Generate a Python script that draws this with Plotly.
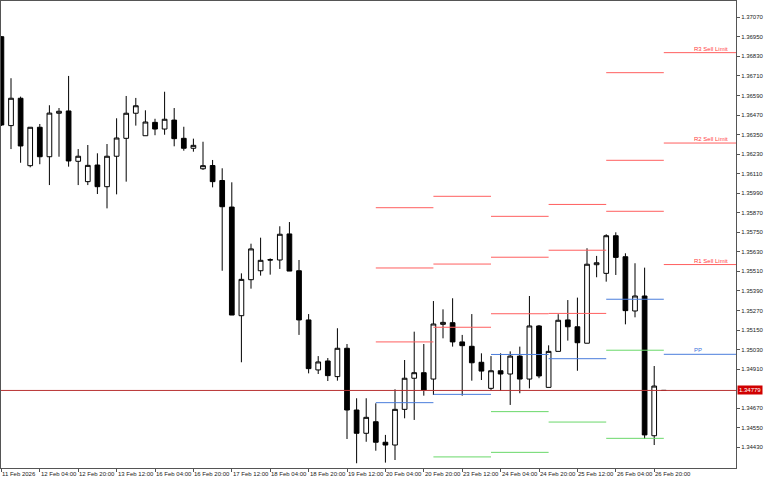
import plotly.graph_objects as go

# ---------------- data ----------------
# H4 candles, 11 Feb 2026 12:00 -> 27 Feb 2026 00:00 (index 0..69)
opens = [1.36951, 1.36405, 1.36573, 1.36159, 1.36395, 1.36214, 1.36481, 1.36495, 1.36186, 1.36061,
         1.36163, 1.36030, 1.36217, 1.36327, 1.36481, 1.36343, 1.36425, 1.36384, 1.36439, 1.36327,
         1.36266, 1.36140, 1.36160, 1.36068, 1.35905, 1.35238, 1.35459, 1.35514, 1.35582, 1.35580,
         1.35740, 1.35514, 1.35212, 1.34905, 1.34960, 1.34864, 1.35038, 1.34659, 1.34516, 1.34587,
         1.34461, 1.34444, 1.34663, 1.34854, 1.34888, 1.34849, 1.35185, 1.35195, 1.35077, 1.35050,
         1.34952, 1.34792, 1.34900, 1.34880, 1.34990, 1.34849, 1.35175, 1.34798, 1.35019, 1.35212,
         1.35170, 1.35069, 1.35551, 1.35498, 1.35729, 1.35600, 1.35267, 1.35359, 1.34501, 1.34779]
highs = [1.36955, 1.36696, 1.36583, 1.36395, 1.36415, 1.36530, 1.36513, 1.36710, 1.36261, 1.36286,
         1.36235, 1.36292, 1.36450, 1.36587, 1.36575, 1.36499, 1.36447, 1.36613, 1.36513, 1.36398,
         1.36325, 1.36306, 1.36194, 1.36143, 1.36057, 1.35498, 1.35680, 1.35717, 1.35590, 1.35787,
         1.35813, 1.35580, 1.35248, 1.34990, 1.34978, 1.35161, 1.35064, 1.34731, 1.34731, 1.34700,
         1.34506, 1.34786, 1.34966, 1.35140, 1.35064, 1.35328, 1.35277, 1.35345, 1.35120, 1.35248,
         1.35007, 1.34990, 1.35007, 1.35019, 1.35048, 1.35359, 1.35181, 1.35056, 1.35247, 1.35334,
         1.35349, 1.35652, 1.35605, 1.35738, 1.35750, 1.35621, 1.35560, 1.35533, 1.34929, 1.34781]
lows = [1.36403, 1.36261, 1.36177, 1.36149, 1.36168, 1.36040, 1.36214, 1.36153, 1.36040, 1.36040,
        1.35985, 1.35897, 1.35983, 1.36061, 1.36405, 1.36343, 1.36346, 1.36349, 1.36278, 1.36251,
        1.36245, 1.36133, 1.36026, 1.35514, 1.35242, 1.34952, 1.35404, 1.35484, 1.35490, 1.35525,
        1.35512, 1.35120, 1.34884, 1.34880, 1.34837, 1.34839, 1.34481, 1.34332, 1.34464, 1.34409,
        1.34336, 1.34352, 1.34608, 1.34598, 1.34747, 1.34751, 1.35099, 1.35048, 1.34747, 1.34839,
        1.34843, 1.34782, 1.34776, 1.34690, 1.34762, 1.34792, 1.34854, 1.34798, 1.35019, 1.35085,
        1.34900, 1.35069, 1.35474, 1.35447, 1.35488, 1.35185, 1.35228, 1.34481, 1.34444, 1.34777]
closes = [1.36409, 1.36573, 1.36280, 1.36395, 1.36214, 1.36482, 1.36493, 1.36188, 1.36217, 1.36161,
          1.36030, 1.36217, 1.36329, 1.36481, 1.36527, 1.36427, 1.36384, 1.36444, 1.36325, 1.36266,
          1.36284, 1.36159, 1.36061, 1.35907, 1.35242, 1.35461, 1.35648, 1.35578, 1.35580, 1.35738,
          1.35512, 1.35212, 1.34913, 1.34954, 1.34870, 1.35038, 1.34659, 1.34516, 1.34614, 1.34461,
          1.34444, 1.34663, 1.34854, 1.34888, 1.34782, 1.35187, 1.35197, 1.35077, 1.35054, 1.34949,
          1.34898, 1.34900, 1.34880, 1.34990, 1.34849, 1.35175, 1.34868, 1.35019, 1.35210, 1.35170,
          1.35072, 1.35554, 1.35563, 1.35729, 1.35596, 1.35269, 1.35359, 1.34506, 1.34806, 1.34779]

# x-axis labels (every 4th bar)
tick_index = [0, 4, 8, 12, 16, 20, 24, 28, 32, 36, 40, 44, 48, 52, 56, 60, 64, 68]
tick_labels = ["11 Feb 2026", "12 Feb 04:00", "12 Feb 20:00", "13 Feb 12:00", "16 Feb 04:00",
               "16 Feb 20:00", "17 Feb 12:00", "18 Feb 04:00", "18 Feb 20:00", "19 Feb 12:00",
               "20 Feb 04:00", "20 Feb 20:00", "23 Feb 12:00", "24 Feb 04:00", "24 Feb 20:00",
               "25 Feb 12:00", "26 Feb 04:00", "26 Feb 20:00"]

# price axis labels
price_ticks = [1.37070, 1.36950, 1.36830, 1.36710, 1.36590, 1.36470, 1.36350, 1.36230, 1.36110,
               1.35990, 1.35870, 1.35750, 1.35630, 1.35510, 1.35390, 1.35270, 1.35150, 1.35030,
               1.34910, 1.34670, 1.34550, 1.34430]
price_tick_labels = ["%.5f" % v for v in price_ticks]
bid_price = 1.34779

# daily pivot levels (day start bar index, day end bar index)
pivot_start = [39, 45, 51, 57, 63, 69]
pivot_end = [45, 51, 57, 63, 69, 77]
r3 = [1.35901, 1.35971, 1.35848, 1.35921, 1.36730, 1.36853]
r2 = [1.35531, 1.35555, 1.35597, 1.35640, 1.36192, 1.36298]
r1 = [1.35077, 1.35167, 1.35250, 1.35252, 1.35879, 1.35552]
pp = [1.34704, 1.34755, 1.35000, 1.34974, 1.35339, 1.35001]
s1 = [None, 1.34371, 1.34649, 1.34585, 1.35026, None]
s2 = [None, None, 1.34399, None, 1.34485, None]

# ---------------- figure ----------------
X_LO, X_HI = -0.042, 76.52
Y_LO, Y_HI = 1.343029, 1.371701

fig = go.Figure()


def level_trace(values, color):
    xs, ys = [], []
    for a, b, v in zip(pivot_start, pivot_end, values):
        if v is None:
            continue
        xs += [a, b, None]
        ys += [v, v, None]
    return go.Scatter(x=xs, y=ys, mode="lines", line=dict(color=color, width=1),
                      hoverinfo="skip", showlegend=False)


for vals in (r3, r2, r1):
    fig.add_trace(level_trace(vals, "#ff5f5f"))
fig.add_trace(level_trace(pp, "#4a7ddc"))
for vals in (s1, s2):
    fig.add_trace(level_trace(vals, "#6ad86a"))

# bid line
fig.add_trace(go.Scatter(x=[X_LO, X_HI], y=[bid_price, bid_price], mode="lines",
                         line=dict(color="#b83232", width=1), hoverinfo="skip", showlegend=False))

fig.add_trace(go.Candlestick(
    x=list(range(len(opens))), open=opens, high=highs, low=lows, close=closes,
    increasing=dict(line=dict(color="#000000", width=1), fillcolor="#ffffff"),
    decreasing=dict(line=dict(color="#000000", width=1), fillcolor="#000000"),
    whiskerwidth=0, showlegend=False))

annotations = []
for idx, lab in zip(tick_index, tick_labels):
    annotations.append(dict(x=idx, y=0, xref="x", yref="paper", text=lab, showarrow=False,
                            xanchor="left", yanchor="top", xshift=-1, yshift=-1,
                            font=dict(family="Liberation Sans", size=6, color="#222")))

# labels of the current day's levels
label_x = 71.94
for txt, val, col in [("R3 Sell Limit", r3[-1], "#ff3c3c"), ("R2 Sell Limit", r2[-1], "#ff3c3c"),
                      ("R1 Sell Limit", r1[-1], "#ff3c3c"), ("PP", pp[-1], "#3c6fdc")]:
    annotations.append(dict(x=label_x, y=val, xref="x", yref="y", text=txt, showarrow=False,
                            xanchor="left", yanchor="bottom", yshift=-1,
                            font=dict(family="Liberation Sans", size=6, color=col)))

# bid price box
annotations.append(dict(x=1, y=bid_price, xref="paper", yref="y", text="1.34779", showarrow=False,
                        xanchor="left", yanchor="middle", xshift=1, bgcolor="#d00000",
                        borderpad=1, font=dict(family="Liberation Sans", size=6, color="#ffffff")))

fig.update_layout(
    width=768, height=480,
    margin=dict(l=1, r=32, t=1, b=12, autoexpand=False),
    paper_bgcolor="#ffffff", plot_bgcolor="#ffffff",
    showlegend=False,
    annotations=annotations,
    xaxis=dict(range=[X_LO, X_HI], showgrid=False, zeroline=False, rangeslider=dict(visible=False),
               tickmode="array", tickvals=tick_index, ticktext=[""] * len(tick_index),
               ticks="outside", ticklen=3, tickcolor="#555", showticklabels=False,
               showline=True, linecolor="#555", linewidth=1, mirror=True, fixedrange=True,
               automargin=False),
    yaxis=dict(range=[Y_LO, Y_HI], side="right", showgrid=False, zeroline=False,
               tickmode="array", tickvals=price_ticks, ticktext=price_tick_labels,
               ticks="outside", ticklen=3, tickcolor="#555",
               tickfont=dict(family="Liberation Sans", size=6, color="#222"),
               showline=True, linecolor="#555", linewidth=1, mirror=True, fixedrange=True,
               automargin=False),
)

fig.write_html("out.html", config={"displayModeBar": False},
               post_script="document.body.style.margin='0';document.body.style.overflow='hidden';")
